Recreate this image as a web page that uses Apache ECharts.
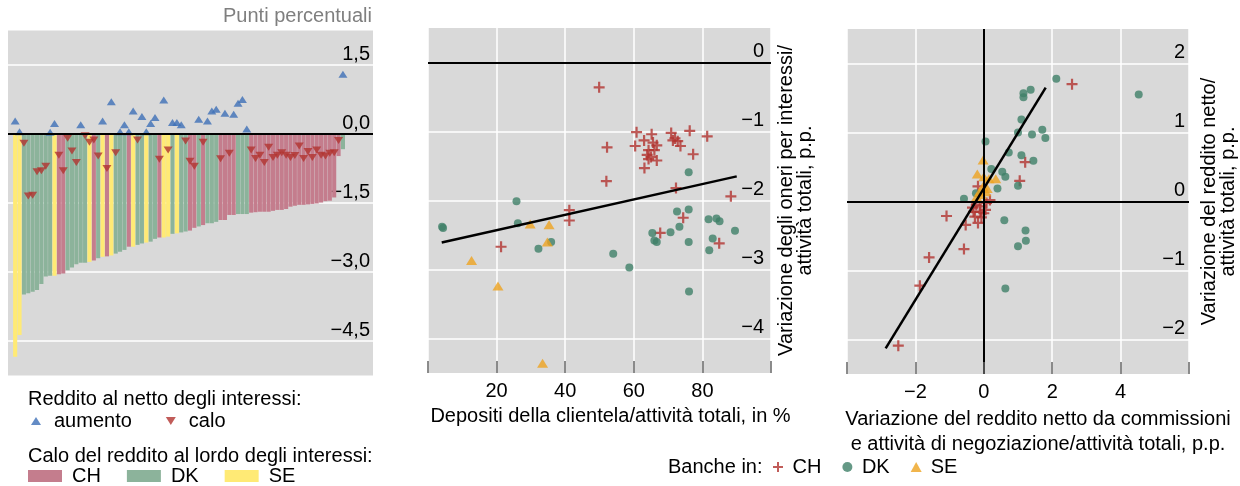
<!DOCTYPE html>
<html>
<head>
<meta charset="utf-8">
<style>
html, body { margin: 0; padding: 0; background: #fff; }
#chart { width: 1240px; height: 486px; }
</style>
</head>
<body>
<div id="chart"></div>
<script src="https://cdn.jsdelivr.net/npm/echarts@6/dist/echarts.min.js"></script>
<script>
// pannello sinistro: calo del reddito al lordo degli interessi (barre), ordinato per banca
var barCountry = ['SE', 'SE', 'DK', 'DK', 'DK', 'DK', 'DK', 'DK', 'DK', 'SE',
    'CH', 'CH', 'DK', 'DK', 'DK', 'DK', 'DK', 'SE', 'CH', 'DK',
    'SE', 'CH', 'SE', 'DK', 'DK', 'DK', 'CH', 'SE', 'DK', 'DK',
    'SE', 'DK', 'DK', 'CH', 'SE', 'SE', 'DK', 'SE', 'DK', 'DK',
    'CH', 'CH', 'DK', 'CH', 'DK', 'DK', 'DK', 'CH', 'CH', 'CH',
    'CH', 'DK', 'DK', 'DK', 'CH', 'CH', 'CH', 'CH', 'CH', 'CH',
    'CH', 'CH', 'CH', 'CH', 'CH', 'CH', 'CH', 'CH', 'CH', 'CH',
    'CH', 'CH', 'CH', 'CH', 'CH', 'DK'];
var grossIncomeDrop = [-4.84, -4.37, -3.49, -3.46, -3.43, -3.39, -3.26, -3.10, -3.08, -3.08,
    -3.05, -3.03, -2.96, -2.90, -2.83, -2.80, -2.80, -2.78, -2.75, -2.70,
    -2.67, -2.66, -2.64, -2.60, -2.56, -2.52, -2.45, -2.45, -2.41, -2.38,
    -2.36, -2.34, -2.28, -2.25, -2.25, -2.23, -2.17, -2.16, -2.14, -2.12,
    -2.10, -2.04, -2.01, -1.98, -1.94, -1.94, -1.91, -1.87, -1.87, -1.76,
    -1.76, -1.74, -1.74, -1.74, -1.71, -1.70, -1.69, -1.69, -1.69, -1.67,
    -1.65, -1.65, -1.63, -1.58, -1.56, -1.54, -1.54, -1.53, -1.52, -1.51,
    -1.49, -1.46, -1.45, -1.38, -0.48, -0.33];
// variazione del reddito al netto degli interessi (triangoli), stessa banca della barra
var netIncomeChange = [0.28, 0.05, -0.20, -1.35, -1.33, -0.82, -0.80, -0.70, 0.04, 0.23,
    -0.46, -0.80, -0.09, -0.37, -0.62, 0.20, -0.04, -0.18, -0.13, -0.48,
    0.28, -0.75, 0.70, -0.41, 0.05, 0.20, 0.05, 0.50, -0.13, 0.38,
    0.05, 0.23, 0.36, -0.55, 0.74, -0.35, 0.25, 0.25, 0.20, -0.15,
    -0.59, -0.70, 0.32, -0.18, 0.28, 0.50, 0.54, -0.54, 0.45, -0.42,
    0.43, 0.67, 0.75, 0.11, -0.35, -0.53, -0.46, -0.62, -0.29, -0.51,
    -0.46, -0.41, -0.46, -0.51, -0.47, -0.26, -0.53, -0.38, -0.51, -0.35,
    -0.46, -0.48, -0.42, -0.41, -0.14, 1.30];
var leftTicks = [-4.5, -3, -1.5, 0, 1.5];

// pannello centrale: depositi della clientela (%) vs variazione oneri per interessi (p.p.)
var midCH = [[49.9, -0.36], [52.2, -1.23], [52.0, -1.72], [60.8, -1.01], [65.2, -1.04], [63.0, -1.13],
    [60.4, -1.21], [65.6, -1.16], [66.7, -1.20], [64.3, -1.27], [66.0, -1.27], [63.9, -1.34],
    [65.0, -1.37], [64.3, -1.40], [66.7, -1.42], [63.1, -1.53], [70.9, -1.02], [72.0, -1.10],
    [72.8, -1.14], [73.6, -1.21], [76.3, -0.99], [81.4, -1.07], [77.3, -1.33], [71.4, -1.13],
    [72.3, -1.82], [88.3, -1.94], [74.4, -2.25], [67.7, -2.47], [84.9, -2.62], [41.2, -2.14],
    [41.2, -2.29], [21.3, -2.67]];
var midDK = [[4.1, -2.38], [4.4, -2.40], [25.8, -2.01], [26.2, -2.33], [32.2, -2.70], [35.9, -2.60],
    [54.0, -2.77], [58.7, -2.97], [76.0, -1.59], [72.6, -2.16], [76.0, -2.13], [73.3, -2.38],
    [70.7, -2.46], [65.4, -2.47], [66.0, -2.58], [66.7, -2.60], [76.0, -2.60], [81.8, -2.27],
    [84.1, -2.26], [85.0, -2.30], [89.5, -2.44], [83.0, -2.55], [82.0, -2.72], [76.1, -3.32]];
var midSE = [[12.7, -2.87], [20.4, -3.24], [29.8, -2.34], [35.3, -2.35], [34.8, -2.60], [33.4, -4.36]];
var midTrend = [[4, -2.61], [90, -1.65]];
var midTicks = [-4, -3, -2, -1, 0];
var midXTicks = [0, 20, 40, 60, 80, 100];

// pannello destro: variazione reddito da commissioni e negoziazione vs variazione reddito netto
var rightCH = [[-2.50, -2.09], [-1.87, -1.22], [-1.60, -0.81], [-1.09, -0.21], [-0.58, -0.69], [-0.53, -0.34],
    [1.05, 0.30], [1.21, 0.57], [2.58, 1.70], [-0.17, 0.22], [-0.33, -0.09], [-0.12, -0.07],
    [0.08, -0.02], [0.18, 0.02], [-0.26, -0.22], [-0.07, -0.23], [-0.17, -0.31], [0.00, -0.17],
    [-0.22, -0.05], [0.05, -0.12], [-0.10, -0.15], [-0.30, -0.15]];
var rightDK = [[0.05, 0.87], [-0.58, 0.04], [-0.23, 0.12], [0.22, 0.47], [0.54, 0.43], [0.63, 0.36],
    [0.40, 0.19], [0.73, 0.71], [1.00, 1.00], [1.10, 1.19], [1.16, 1.57], [1.16, 1.51],
    [1.37, 1.62], [1.41, 0.97], [1.10, 0.67], [1.45, 0.59], [1.00, 0.23], [0.60, -0.27],
    [1.22, -0.42], [1.23, -0.57], [1.00, -0.65], [0.63, -1.26], [1.71, 1.04], [1.80, 0.92],
    [2.12, 1.78], [4.53, 1.55]];
var rightSE = [[-0.02, 0.60], [-0.19, 0.40], [0.00, 0.36], [0.15, 0.33], [0.35, 0.33], [-0.02, 0.22],
    [-0.12, 0.14], [-0.07, 0.10], [0.06, 0.14], [-0.21, 0.07], [0.10, 0.19]];
var rightTrend = [[-2.87, -2.13], [1.81, 1.65]];
var rightTicks = [-2, -1, 0, 1, 2];
var rightXTicks = [-4, -2, 0, 2, 4, 6];

var colCH = '#c47d8d', colDK = '#8cb39b', colSE = '#ffea75';
var red = '#b2332f', green = '#3f8068', orange = '#eea21f', blue = '#3d6fb6';
var plus = 'path://M4,0H6V4H10V6H6V10H4V6H0V4H4Z';
var downTri = 'path://M0,0L10,0L5,8Z';
var font = 'Liberation Sans';
var fs = 20;

function minus(v) { return String(v).replace('-', '\u2212'); }
function comma(v) { return v.toFixed(1).replace('.', ',').replace('-', '\u2212'); }

function barsOf(code) {
    var out = [];
    barCountry.forEach(function (c, i) {
        if (c === code) out.push([i + 1, grossIncomeDrop[i]]);
    });
    return out;
}
function markersOf(up) {
    var out = [];
    netIncomeChange.forEach(function (v, i) {
        if ((v >= 0) === up) out.push([i + 1, v]);
    });
    return out;
}
// tacche interne sul bordo inferiore, in coordinate dei dati
function tickMarks(ticks, yMin, len) {
    return ticks.map(function (t) {
        return [{coord: [t, yMin], lineStyle: {color: '#666', width: 1.5}}, {coord: [t, yMin + len]}];
    });
}

var bgGrid = {show: true, backgroundColor: '#d9d9d9', borderWidth: 0};
var white = {lineStyle: {color: '#fff', width: 1.5}};
var zeroStyle = {color: '#000', width: 2, type: 'solid'};

function txt(extra) {
    return Object.assign({fontSize: fs, color: '#000', fontFamily: font}, extra || {});
}

function insideY(ticks, fmt, margin) {
    return {
        position: 'right',
        axisLine: {show: false},
        axisTick: {show: false, customValues: ticks},
        axisLabel: Object.assign({inside: true, customValues: ticks, formatter: fmt, margin: margin,
            verticalAlign: 'bottom', padding: [0, 0, 1, 0]}, txt()),
        splitLine: white
    };
}

function bottomX(extra) {
    return Object.assign({
        type: 'value',
        axisLine: {show: false, onZero: false},
        axisTick: {show: false},
        axisLabel: Object.assign({showMinLabel: false, showMaxLabel: false, margin: 8, formatter: minus}, txt()),
        splitLine: white,
        nameLocation: 'middle'
    }, extra);
}

var myChart = echarts.init(document.getElementById('chart'), null, {renderer: 'canvas'});
var bar0 = {type: 'bar', xAxisIndex: 0, yAxisIndex: 0, barWidth: 4.1, barGap: '-100%', silent: true};

var option = {
    animation: false,
    textStyle: {fontFamily: font, fontSize: fs, color: '#000'},
    title: [
        {text: 'Punti percentuali', right: 868, top: 6, padding: 0,
            textStyle: txt({color: '#7f7f7f', fontWeight: 'normal'})},
        {text: 'Reddito al netto degli interessi:', left: 28, top: 389, padding: 0,
            textStyle: txt({fontWeight: 'normal'})},
        {text: 'Calo del reddito al lordo degli interessi:', left: 28, top: 446, padding: 0,
            textStyle: txt({fontWeight: 'normal'})},
        {text: 'Banche in:', left: 668, top: 457, padding: 0,
            textStyle: txt({fontWeight: 'normal'})}
    ],
    legend: [
        {data: ['aumento', 'calo'], left: 31, top: 411, padding: 0, itemWidth: 10, itemHeight: 8, itemGap: 34,
            textStyle: txt({padding: [0, 0, 0, 8]})},
        {data: ['CH', 'DK', 'SE'], left: 28, top: 466, padding: 0, icon: 'rect', itemWidth: 34, itemHeight: 12,
            itemGap: 26, textStyle: txt({padding: [0, 0, 0, 5]})},
        {data: ['Banche CH', 'Banche DK', 'Banche SE'], left: 773, top: 457, padding: 0, itemWidth: 11,
            itemHeight: 10, itemGap: 21, textStyle: txt({padding: [0, 0, 0, 4]}),
            formatter: function (name) { return name.replace('Banche ', ''); }}
    ],
    grid: [
        Object.assign({left: 8, top: 30.5, width: 365, height: 345}, bgGrid),
        Object.assign({left: 428, top: 28, width: 343, height: 345}, bgGrid),
        Object.assign({left: 847, top: 29, width: 342, height: 345}, bgGrid)
    ],
    xAxis: [
        {gridIndex: 0, type: 'value', min: -0.64, max: 82.88, show: false},
        bottomX({gridIndex: 1, min: 0, max: 100, interval: 20,
            name: 'Depositi della clientela/attività totali, in %', nameGap: 33,
            nameTextStyle: txt({padding: [0, 0, 0, 22]})}),
        bottomX({gridIndex: 2, min: -4, max: 6, interval: 2,
            name: 'Variazione del reddito netto da commissioni\ne attività di negoziazione/attività totali, p.p.',
            nameGap: 27, nameTextStyle: txt({lineHeight: 25, padding: [0, 0, 0, 40]})})
    ],
    yAxis: [
        Object.assign({gridIndex: 0, type: 'value', min: -5.25, max: 2.25}, insideY(leftTicks, comma, 3)),
        Object.assign({gridIndex: 1, type: 'value', min: -4.5, max: 0.5,
            name: 'Variazione degli oneri per interessi/\nattività totali, p.p.', nameLocation: 'middle',
            nameRotate: 90, nameGap: 6, nameTextStyle: txt({lineHeight: 19})},
            insideY(midTicks, minus, 7)),
        Object.assign({gridIndex: 2, type: 'value', min: -2.5, max: 2.5,
            name: 'Variazione del reddito netto/\nattività totali, p.p.', nameLocation: 'middle',
            nameRotate: 90, nameGap: 11, nameTextStyle: txt({lineHeight: 19})},
            insideY(rightTicks, minus, 4))
    ],
    series: [
        Object.assign({name: 'CH', data: barsOf('CH'), itemStyle: {color: colCH},
            markLine: {silent: true, symbol: 'none', label: {show: false}, data: [{yAxis: 0}],
                lineStyle: zeroStyle}}, bar0),
        Object.assign({name: 'DK', data: barsOf('DK'), itemStyle: {color: colDK}}, bar0),
        Object.assign({name: 'SE', data: barsOf('SE'), itemStyle: {color: colSE}}, bar0),
        {name: 'aumento', type: 'scatter', xAxisIndex: 0, yAxisIndex: 0, symbol: 'triangle', symbolSize: [9, 7],
            itemStyle: {color: blue}, data: markersOf(true)},
        {name: 'calo', type: 'scatter', xAxisIndex: 0, yAxisIndex: 0, symbol: downTri, symbolSize: [9, 7],
            itemStyle: {color: red}, data: markersOf(false)},

        {name: 'Banche CH', type: 'scatter', xAxisIndex: 1, yAxisIndex: 1, symbol: plus, symbolSize: 11,
            itemStyle: {color: red}, data: midCH},
        {name: 'Banche DK', type: 'scatter', xAxisIndex: 1, yAxisIndex: 1, symbol: 'circle', symbolSize: 8,
            itemStyle: {color: green}, data: midDK},
        {name: 'Banche SE', type: 'scatter', xAxisIndex: 1, yAxisIndex: 1, symbol: 'triangle', symbolSize: [11, 9],
            itemStyle: {color: orange}, data: midSE},
        {type: 'line', xAxisIndex: 1, yAxisIndex: 1, data: midTrend, symbol: 'none', silent: true,
            lineStyle: {color: '#000', width: 2.5},
            markLine: {silent: true, symbol: 'none', label: {show: false}, lineStyle: zeroStyle,
                data: [{yAxis: 0}].concat(tickMarks(midXTicks, -4.5, 0.174))}},

        {name: 'Banche CH', type: 'scatter', xAxisIndex: 2, yAxisIndex: 2, symbol: plus, symbolSize: 11,
            itemStyle: {color: red}, data: rightCH},
        {name: 'Banche DK', type: 'scatter', xAxisIndex: 2, yAxisIndex: 2, symbol: 'circle', symbolSize: 8,
            itemStyle: {color: green}, data: rightDK},
        {name: 'Banche SE', type: 'scatter', xAxisIndex: 2, yAxisIndex: 2, symbol: 'triangle', symbolSize: [11, 9],
            itemStyle: {color: orange}, data: rightSE},
        {type: 'line', xAxisIndex: 2, yAxisIndex: 2, data: rightTrend, symbol: 'none', silent: true,
            lineStyle: {color: '#000', width: 2.5},
            markLine: {silent: true, symbol: 'none', label: {show: false}, lineStyle: zeroStyle,
                data: [{yAxis: 0}, {xAxis: 0}].concat(tickMarks(rightXTicks, -2.5, 0.174))}}
    ]
};
myChart.setOption(option);
</script>
</body>
</html>
